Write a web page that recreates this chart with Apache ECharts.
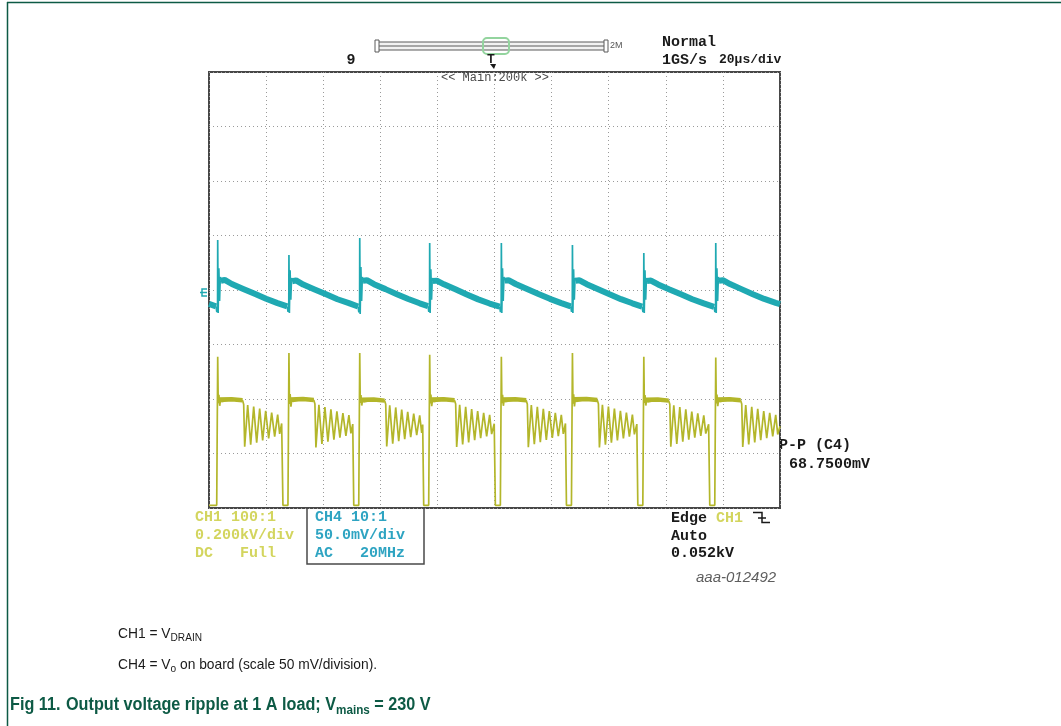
<!DOCTYPE html>
<html>
<head>
<meta charset="utf-8">
<script src="https://cdn.jsdelivr.net/npm/echarts@6/dist/echarts.min.js"></script>
<style>
  html, body { margin: 0; padding: 0; background: #ffffff; }
  #chart { width: 1061px; height: 726px; }
</style>
</head>
<body>
<div id="chart"></div>
<script>
// Time base: 20 µs/div over 10 divisions
const timeRange = [0, 200];
const timeStep = 20;
// CH4 (output ripple): 50 mV/div, 8 divisions centred on the ground marker
const ch4Range = [-200, 200];
const ch4Step = 50;
// CH1 (drain voltage): 0.2 kV/div, ground just above the bottom graticule line
const ch1Range = [-10, 1590];

// CH1 = V_DRAIN in volts, [time µs, V]
const ch1Drain = [
  [0, 0], [2.7, 0], [3.05, 545], [3.23, 375], [3.47, 405], [3.75, 365], [4.1, 392], [4.45, 380], [7.9, 388], [11.8, 384],
  [12.15, 370], [12.5, 215], [13.55, 368], [14.6, 222], [15.65, 362], [16.7, 230], [17.75, 355], [18.8, 238], [19.85, 347],
  [20.9, 245], [21.95, 340], [23.0, 252], [24.05, 333], [24.75, 262], [25.45, 300], [25.9, 0],
  [27.65, 0], [28.0, 559], [28.18, 372], [28.42, 408], [28.7, 362], [29.05, 393], [29.4, 381], [32.9, 389], [36.75, 385],
  [37.1, 372], [37.45, 212], [38.5, 369], [39.55, 225], [40.6, 360], [41.65, 233], [42.7, 352], [43.75, 241], [44.8, 345],
  [45.85, 248], [46.9, 338], [47.95, 255], [49.0, 331], [49.7, 264], [50.35, 298], [50.7, 0],
  [52.45, 0], [52.8, 559], [52.98, 376], [53.22, 404], [53.5, 366], [53.85, 391], [54.2, 379], [57.7, 387], [61.55, 383],
  [61.9, 371], [62.25, 216], [63.3, 367], [64.35, 226], [65.4, 359], [66.45, 235], [67.5, 351], [68.55, 243], [69.6, 343],
  [70.65, 250], [71.7, 336], [72.75, 257], [73.8, 330], [74.5, 266], [74.85, 296], [75.2, 0],
  [76.95, 0], [77.3, 552], [77.48, 374], [77.72, 406], [78.0, 364], [78.35, 392], [78.7, 380], [82.2, 388], [86.05, 384],
  [86.4, 372], [86.75, 214], [87.8, 369], [88.85, 223], [89.9, 361], [90.95, 231], [92.0, 353], [93.05, 239], [94.1, 346],
  [95.15, 246], [96.2, 339], [97.25, 253], [98.3, 332], [99.0, 261], [99.9, 299], [100.3, 0],
  [102.05, 0], [102.4, 545], [102.58, 375], [102.82, 405], [103.1, 365], [103.45, 392], [103.8, 380], [107.3, 388], [111.15, 384],
  [111.5, 371], [111.85, 213], [112.9, 368], [113.95, 224], [115.0, 361], [116.05, 232], [117.1, 354], [118.15, 240], [119.2, 346],
  [120.25, 247], [121.3, 339], [122.35, 254], [123.4, 332], [124.1, 262], [124.85, 300], [125.2, 0],
  [126.95, 0], [127.3, 559], [127.48, 373], [127.72, 407], [128.0, 363], [128.35, 393], [128.7, 381], [132.2, 389], [136.05, 385],
  [136.4, 372], [136.75, 212], [137.8, 369], [138.85, 222], [139.9, 362], [140.95, 230], [142.0, 355], [143.05, 238], [144.1, 347],
  [145.15, 245], [146.2, 340], [147.25, 252], [148.3, 333], [149.0, 260], [149.85, 298], [150.2, 0],
  [151.95, 0], [152.3, 545], [152.48, 376], [152.72, 404], [153.0, 366], [153.35, 391], [153.7, 379], [157.2, 387], [161.05, 383],
  [161.4, 371], [161.75, 215], [162.8, 367], [163.85, 225], [164.9, 360], [165.95, 233], [167.0, 352], [168.05, 241], [169.1, 344],
  [170.15, 248], [171.2, 337], [172.25, 255], [173.3, 330], [174.0, 263], [175.0, 297], [175.4, 0],
  [177.15, 0], [177.5, 542], [177.68, 374], [177.92, 406], [178.2, 364], [178.55, 392], [178.9, 380], [182.4, 388], [186.25, 384],
  [186.6, 372], [186.95, 214], [188.0, 368], [189.05, 223], [190.1, 361], [191.15, 231], [192.2, 354], [193.25, 239], [194.3, 346],
  [195.35, 246], [196.4, 339], [197.45, 253], [198.5, 332], [199.2, 260], [200, 290]
];

// Reflected-voltage plateau of CH1 (noisy, drawn as a wider trace)
const ch1Plateau = [
  [3.55, 388], [7.9, 389], [11.75, 385], [11.75, null],
  [28.5, 388], [32.9, 390], [36.7, 386], [36.7, null],
  [53.3, 387], [57.7, 388], [61.5, 384], [61.5, null],
  [77.8, 388], [82.2, 389], [86.0, 385], [86.0, null],
  [102.9, 388], [107.3, 389], [111.1, 385], [111.1, null],
  [127.8, 389], [132.2, 390], [136.0, 386], [136.0, null],
  [152.8, 387], [157.2, 388], [161.0, 384], [161.0, null],
  [178.0, 388], [182.4, 389], [186.2, 385]
];

// CH4 = Vo ripple in mV: slow discharge ramps between switching edges
const ch4Ramp = [
  [0, -12.8], [2.45, -15.0], [2.45, null],
  [4.15, 8.5], [5.5, 9.2], [8, 5.5], [12, 1.0], [16, -3.5], [20, -8.0], [24, -12.0], [27.4, -15.0], [27.4, null],
  [29.1, 8.0], [30.5, 8.8], [33, 5.0], [37, 0.5], [41, -4.0], [45, -8.5], [49, -12.0], [52.2, -15.2], [52.2, null],
  [53.9, 8.5], [55.3, 9.0], [57.8, 5.3], [61.8, 0.8], [65.8, -3.8], [69.8, -8.2], [73.8, -12.2], [76.7, -14.8], [76.7, null],
  [78.4, 8.2], [79.8, 8.6], [82.3, 5.2], [86.3, 0.6], [90.3, -4.1], [94.3, -8.6], [98.3, -12.4], [101.8, -15.3], [101.8, null],
  [103.5, 8.6], [104.9, 9.0], [107.4, 5.5], [111.4, 0.9], [115.4, -3.7], [119.4, -8.1], [123.4, -12.0], [126.7, -15.0], [126.7, null],
  [128.4, 8.4], [129.8, 8.9], [132.3, 5.3], [136.3, 0.7], [140.3, -3.9], [144.3, -8.4], [148.3, -12.2], [151.7, -15.2], [151.7, null],
  [153.4, 8.3], [154.8, 8.7], [157.3, 5.1], [161.3, 0.5], [165.3, -4.0], [169.3, -8.5], [173.3, -12.3], [176.9, -15.4], [176.9, null],
  [178.6, 8.5], [180, 9.0], [182.5, 5.4], [186.5, 0.8], [190.5, -3.8], [194.5, -8.2], [198.5, -11.8], [200, -13.0]
];

// CH4 switching spikes in mV
const ch4Spikes = [
  [2.45, -15.0], [2.75, -20.2], [3.0, -12], [3.05, 45.8], [3.2, -21], [3.45, 20], [3.7, -10], [3.95, 12], [4.15, 8.5], [4.15, null],
  [27.4, -15.0], [27.7, -20.0], [27.95, -12], [28.0, 32.1], [28.15, -21], [28.4, 18], [28.65, -9], [28.9, 11], [29.1, 8.0], [29.1, null],
  [52.2, -15.2], [52.5, -20.5], [52.75, -12], [52.8, 47.6], [52.95, -22], [53.2, 21], [53.45, -10], [53.7, 12], [53.9, 8.5], [53.9, null],
  [76.7, -14.8], [77.0, -20.0], [77.25, -12], [77.3, 43.1], [77.45, -21], [77.7, 19], [77.95, -9], [78.2, 11], [78.4, 8.2], [78.4, null],
  [101.8, -15.3], [102.1, -20.3], [102.35, -12], [102.4, 43.1], [102.55, -21], [102.8, 20], [103.05, -10], [103.3, 12], [103.5, 8.6], [103.5, null],
  [126.7, -15.0], [127.0, -20.0], [127.25, -12], [127.3, 41.2], [127.45, -21], [127.7, 19], [127.95, -9], [128.2, 11], [128.4, 8.4], [128.4, null],
  [151.7, -15.2], [152.0, -20.4], [152.25, -12], [152.3, 33.9], [152.45, -21], [152.7, 18], [152.95, -9], [153.2, 11], [153.4, 8.3], [153.4, null],
  [176.9, -15.4], [177.2, -20.2], [177.45, -12], [177.5, 43.1], [177.65, -21], [177.9, 20], [178.15, -10], [178.4, 12], [178.6, 8.5]
];

// Scope read-outs
const ch1Info = ['CH1 100:1', '0.200kV/div', 'DC   Full'];
const ch4Info = ['CH4 10:1', '50.0mV/div', 'AC   20MHz'];
const triggerInfo = ['Edge ', 'Auto', '0.052kV'];
const measureInfo = ['P-P (C4)', '68.7500mV'];
const acquireInfo = ['Normal', '1GS/s', '20\u00b5s/div'];

const COLORS = {
  ch1: '#b3b62a',
  ch1Text: '#d3d55e',
  ch4: '#1fa9b2',
  ch4Text: '#2ea4c2',
  grid: '#9a9a9a',
  frame: '#0d5a45',
  screen: '#474747',
  ink: '#1a1a1a'
};

const MONO = 'bold 15px "Liberation Mono", "DejaVu Sans Mono", monospace';
const SANS = '"Liberation Sans", Arial, sans-serif';

const measureCtx = document.createElement('canvas').getContext('2d');
function textWidth(str, font) {
  measureCtx.font = font;
  return measureCtx.measureText(str).width;
}

function txt(x, y, text, font, fill, align, extra) {
  const el = {
    type: 'text', x: x, y: y, silent: true,
    style: { text: text, font: font, fill: fill, align: align || 'left', verticalAlign: 'middle',
             textAlign: align || 'left', textVerticalAlign: 'middle' }
  };
  return Object.assign(el, extra || {});
}
function line(x1, y1, x2, y2, stroke, w) {
  return { type: 'line', silent: true, shape: { x1: x1, y1: y1, x2: x2, y2: y2 }, style: { stroke: stroke, lineWidth: w || 1 } };
}

// Caption rows with subscripts, laid out from measured text widths (optionally condensed)
function captionRow(x, y, parts, squeeze) {
  const k = squeeze || 1;
  const out = [];
  let cx = x;
  parts.forEach(function (p) {
    out.push(txt(cx, y + (p.dy || 0), p.text, p.font, p.fill, 'left', { scaleX: k }));
    cx += textWidth(p.text, p.font) * k;
  });
  return out;
}

const graphics = [];
// page frame
graphics.push(line(7.5, 2, 7.5, 726, COLORS.frame, 1.5));
graphics.push(line(7, 2.5, 1061, 2.5, COLORS.frame, 1.5));

// memory bar and trigger position
graphics.push({ type: 'rect', silent: true, shape: { x: 378, y: 42, width: 227, height: 8 }, style: { fill: '#f2f2f2', stroke: '#5a5a5a', lineWidth: 1 } });
graphics.push(line(378, 46, 605, 46, '#5a5a5a', 1));
graphics.push({ type: 'rect', silent: true, shape: { x: 375, y: 40, width: 4, height: 12 }, style: { fill: '#fff', stroke: '#5a5a5a', lineWidth: 1 } });
graphics.push({ type: 'rect', silent: true, shape: { x: 604, y: 40, width: 4, height: 12 }, style: { fill: '#fff', stroke: '#5a5a5a', lineWidth: 1 } });
graphics.push({ type: 'rect', silent: true, shape: { x: 483, y: 38, width: 26, height: 16, r: 4 }, style: { fill: 'none', stroke: '#93d49e', lineWidth: 2 } });
graphics.push(txt(610, 46, '2M', '9px ' + SANS, '#555'));
graphics.push(txt(351, 60, '9', MONO, COLORS.ink, 'center'));
graphics.push(txt(491, 60, 'T', 'bold 12px ' + SANS, COLORS.ink, 'center'));
graphics.push({ type: 'polygon', silent: true, shape: { points: [[490, 64], [496, 64], [494, 69]] }, style: { fill: COLORS.ink } });
graphics.push(txt(495, 78, '<< Main:200k >>', '12px "Liberation Mono", monospace', '#4a4a4a', 'center'));

// acquisition read-out
graphics.push(txt(662, 42, acquireInfo[0], MONO, COLORS.ink));
graphics.push(txt(662, 60, acquireInfo[1], MONO, COLORS.ink));
graphics.push(txt(719, 60, acquireInfo[2], 'bold 13px "Liberation Mono", monospace', COLORS.ink));

// channel ground markers
graphics.push({ type: 'polyline', silent: true, shape: { points: [[207, 289], [202, 289], [202, 296], [207, 296]] }, style: { stroke: COLORS.ch4, lineWidth: 1.5, fill: 'none' } });
graphics.push(line(200, 292.5, 207, 292.5, COLORS.ch4, 1.5));

// channel read-outs
ch1Info.forEach(function (s, i) { graphics.push(txt(195, 517 + i * 18, s, MONO, COLORS.ch1Text)); });
graphics.push({ type: 'rect', silent: true, shape: { x: 307, y: 508, width: 117, height: 56 }, style: { fill: 'none', stroke: '#4a4a4a', lineWidth: 1.5 } });
ch4Info.forEach(function (s, i) { graphics.push(txt(315, 517 + i * 18, s, MONO, COLORS.ch4Text)); });

// trigger read-out
graphics.push(txt(671, 518, triggerInfo[0], MONO, COLORS.ink));
graphics.push(txt(716, 518, 'CH1', MONO, COLORS.ch1Text));
graphics.push({ type: 'polyline', silent: true, shape: { points: [[753, 512.5], [762, 512.5], [762, 522.5], [770, 522.5]] }, style: { stroke: COLORS.ink, lineWidth: 1.5, fill: 'none' } });
graphics.push(line(758, 518, 766, 518, COLORS.ink, 1.5));
graphics.push(txt(671, 536, triggerInfo[1], MONO, COLORS.ink));
graphics.push(txt(671, 553, triggerInfo[2], MONO, COLORS.ink));

// measurement read-out
graphics.push(txt(779, 445, measureInfo[0], MONO, COLORS.ink));
graphics.push(txt(789, 464, measureInfo[1], MONO, COLORS.ink));

// figure code
graphics.push(txt(696, 578, 'aaa-012492', 'italic 15px ' + SANS, '#5e5e5e'));

// caption
const capFont = '15px ' + SANS;
const capSub = '11px ' + SANS;
Array.prototype.push.apply(graphics, captionRow(118, 634, [
  { text: 'CH1 = V', font: capFont, fill: COLORS.ink },
  { text: 'DRAIN', font: capSub, fill: COLORS.ink, dy: 4 }
], 0.92));
Array.prototype.push.apply(graphics, captionRow(118, 665, [
  { text: 'CH4 = V', font: capFont, fill: COLORS.ink },
  { text: 'o', font: capSub, fill: COLORS.ink, dy: 4 },
  { text: ' on board (scale 50 mV/division).', font: capFont, fill: COLORS.ink }
], 0.92));
const figFont = 'bold 18px ' + SANS;
const figSub = 'bold 13px ' + SANS;
Array.prototype.push.apply(graphics, captionRow(10, 705, [
  { text: 'Fig 11.', font: figFont, fill: COLORS.frame }
], 0.9));
Array.prototype.push.apply(graphics, captionRow(66, 705, [
  { text: 'Output voltage ripple at 1 A load; V', font: figFont, fill: COLORS.frame },
  { text: 'mains', font: figSub, fill: COLORS.frame, dy: 5 },
  { text: ' = 230 V', font: figFont, fill: COLORS.frame }
], 0.9));

const dotted = { show: true, lineStyle: { color: COLORS.grid, width: 1, type: [1, 3] } };
const hiddenAxis = { axisLine: { show: false }, axisTick: { show: false }, axisLabel: { show: false } };

const chart = echarts.init(document.getElementById('chart'), null, { renderer: 'canvas' });
chart.setOption({
  animation: false,
  backgroundColor: '#ffffff',
  grid: { left: 209, top: 72, width: 571, height: 436, show: true, borderColor: COLORS.screen, borderWidth: 2, backgroundColor: 'transparent' },
  xAxis: Object.assign({ type: 'value', min: timeRange[0], max: timeRange[1], interval: timeStep, splitLine: dotted }, hiddenAxis),
  yAxis: [
    Object.assign({ type: 'value', min: ch4Range[0], max: ch4Range[1], interval: ch4Step, splitLine: dotted }, hiddenAxis),
    Object.assign({ type: 'value', min: ch1Range[0], max: ch1Range[1], splitLine: { show: false } }, hiddenAxis)
  ],
  series: [
    { name: 'CH1 plateau', type: 'line', yAxisIndex: 1, data: ch1Plateau, showSymbol: false, symbol: 'none', connectNulls: false,
      lineStyle: { color: COLORS.ch1, width: 4.5 }, silent: true, z: 3 },
    { name: 'CH1', type: 'line', yAxisIndex: 1, data: ch1Drain, showSymbol: false, symbol: 'none',
      lineStyle: { color: COLORS.ch1, width: 1.7 }, silent: true, z: 3 },
    { name: 'CH4 ramp', type: 'line', yAxisIndex: 0, data: ch4Ramp, showSymbol: false, symbol: 'none', connectNulls: false,
      lineStyle: { color: COLORS.ch4, width: 6 }, silent: true, z: 4 },
    { name: 'CH4', type: 'line', yAxisIndex: 0, data: ch4Spikes, showSymbol: false, symbol: 'none', connectNulls: false,
      lineStyle: { color: COLORS.ch4, width: 1.7 }, silent: true, z: 4 }
  ],
  graphic: graphics
});
</script>
</body>
</html>
